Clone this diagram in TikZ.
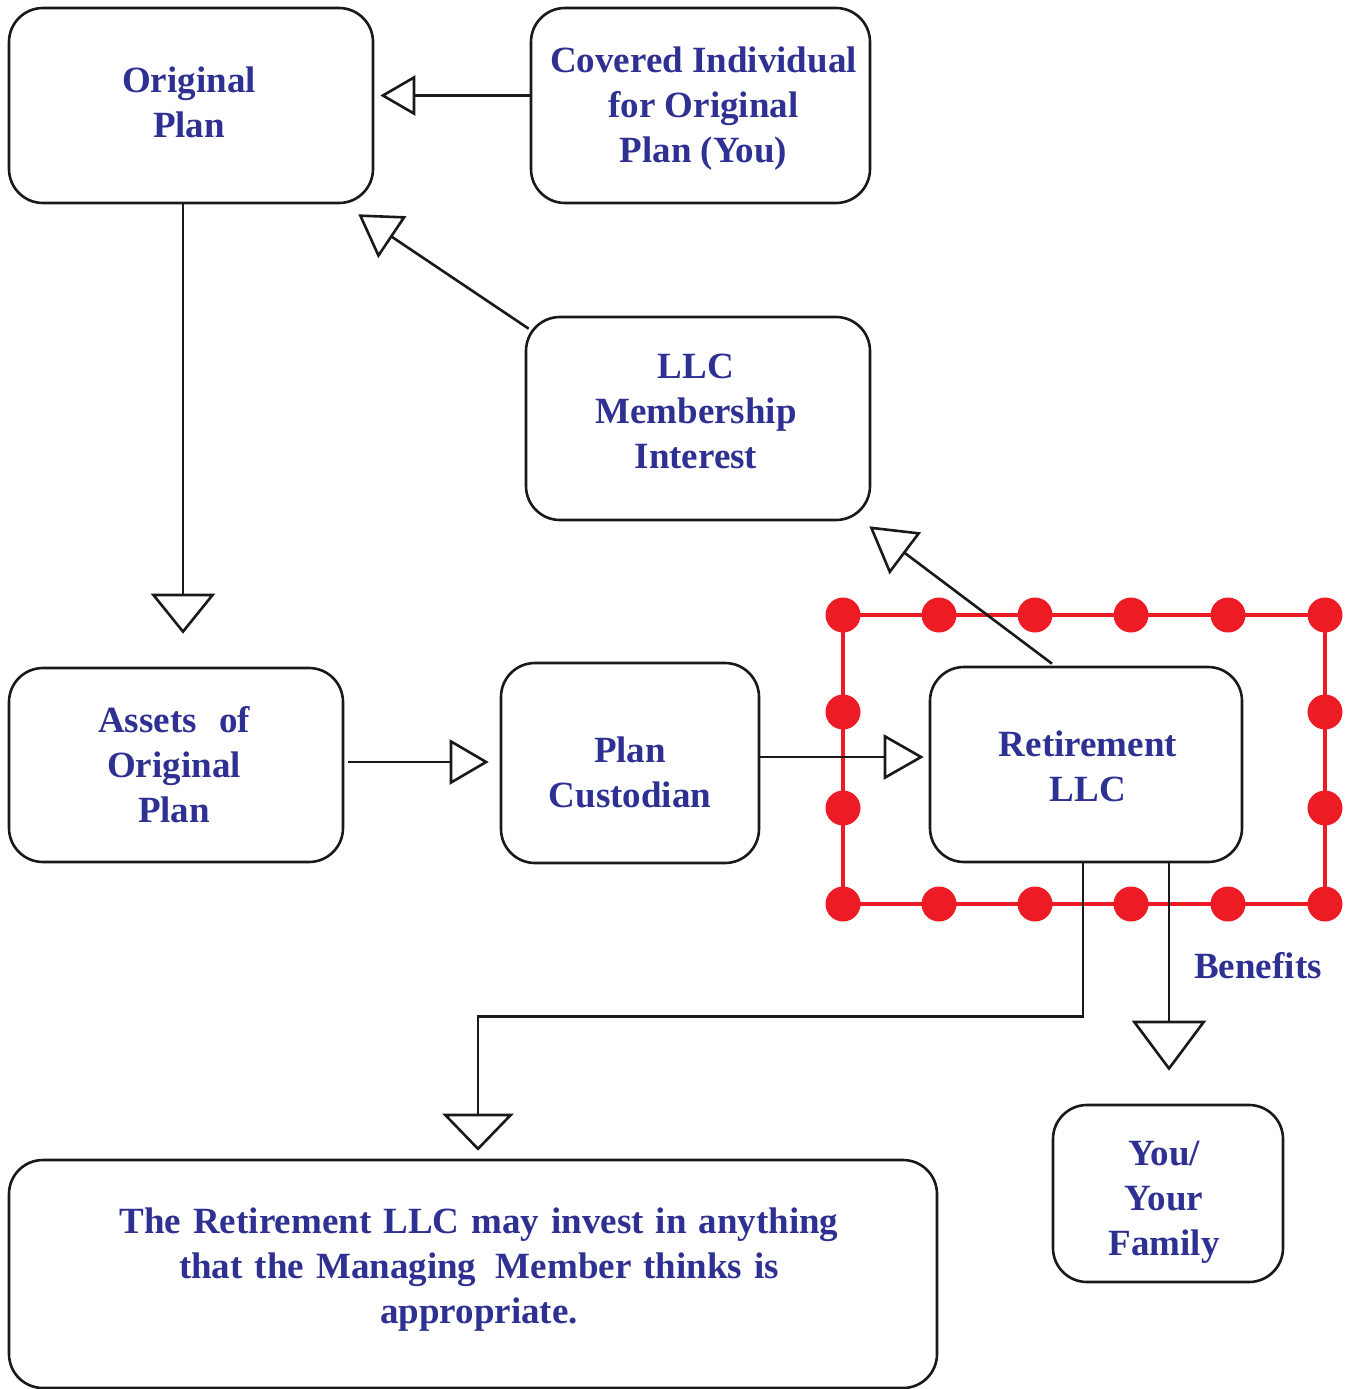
\documentclass[tikz,border=0pt]{standalone}
\usepackage{fontspec}
\setmainfont{Liberation Serif}
\usetikzlibrary{arrows.meta}
\definecolor{txtblue}{HTML}{2E3192}
\definecolor{dotred}{HTML}{ED1C24}
\newcommand\widespaces{\spaceskip=12pt plus 3pt\relax}
\begin{document}
\begin{tikzpicture}[x=1pt,y=-1pt,
  box/.style={draw=black!90, line width=2.6pt, rounded corners=34pt, rectangle, inner sep=0pt},
  lbl/.style={text=txtblue, align=center, inner sep=0pt,
    font=\fontsize{37}{45}\selectfont\bfseries},
  conn/.style={draw=black!90, line width=2.6pt},
  tri/.style 2 args={conn, -{Triangle[open, length=#1pt, width=#2pt, line width=2.6pt]}},
  dot/.style={fill=dotred, draw=none}
]
\useasboundingbox (0,0) rectangle (1351,1389);

% boxes
\node[box, minimum width=364pt, minimum height=195pt] (orig) at (191,105.5) {};
\node[box, minimum width=339pt, minimum height=195pt] (cov) at (700.5,105.5) {};
\node[box, minimum width=344pt, minimum height=203pt] (llcm) at (698,418.5) {};
\node[box, minimum width=334pt, minimum height=194pt] (assets) at (176,765) {};
\node[box, minimum width=258pt, minimum height=200pt] (cust) at (630,763) {};
\node[box, minimum width=312pt, minimum height=195pt] (rllc) at (1086,764.5) {};
\node[box, minimum width=230pt, minimum height=177pt] (you) at (1168,1193.5) {};
\node[box, minimum width=928pt, minimum height=228pt] (bot) at (473,1274) {};

% labels
\node[lbl] (origT) at ([xshift=-2pt,yshift=3pt]orig.center) {Original\\Plan};
\node[lbl] (covT) at ([xshift=3pt,yshift=-3pt]cov.center) {Covered Individual\\for Original\\Plan (You)};
\node[lbl] (llcmT) at ([xshift=-2pt,yshift=7pt]llcm.center) {LLC\\Membership\\Interest};
\node[lbl] (assetsT) at ([xshift=-2pt]assets.center) {Assets\hspace{0.6em}of\\Original\\Plan};
\node[lbl] (custT) at ([yshift=-9pt]cust.center) {Plan\\Custodian};
\node[lbl] (rllcT) at ([xshift=2pt,yshift=-2pt]rllc.center) {Retirement\\LLC};
\node[lbl] (youT) at ([xshift=-4pt,yshift=-9pt]you.center) {You/\\Your\\Family};
\node[lbl, font=\fontsize{37}{45}\selectfont\bfseries\widespaces] (botT) at ([xshift=6pt,yshift=4pt]bot.center) {The Retirement LLC may invest in anything\\that the Managing\hspace{0.2em} Member thinks is\\appropriate.};

% red dotted frame
\draw[dotred, line width=4.5pt] (843,615) rectangle (1325,904);
\foreach \x in {843,939,1035,1131,1228,1325} {
  \fill[dot] (\x,615) circle (17.5pt);
  \fill[dot] (\x,904) circle (17.5pt);
}
\foreach \y in {712,808} {
  \fill[dot] (843,\y) circle (17.5pt);
  \fill[dot] (1325,\y) circle (17.5pt);
}

% connectors
\draw[tri={35}{40}] ([yshift=10pt]cov.west) -- ([xshift=6pt,yshift=10pt]orig.east);
\draw[tri={41}{50}] ([xshift=4pt,yshift=-13pt]llcm.north west) -- ([xshift=-16pt,yshift=-10pt]orig.south east);
\draw[tri={40}{64}] ([xshift=-8pt]orig.south) -- ([xshift=7pt,yshift=33pt]assets.north);
\draw[tri={39}{45}] ([xshift=4pt,yshift=3pt]assets.east) -- ([xshift=-11pt,yshift=1pt]cust.west);
\draw[tri={40}{45}] ([yshift=6pt]cust.east) -- ([xshift=-5pt,yshift=7.5pt]rllc.west);
\draw[tri={45}{52}] ([xshift=-34pt,yshift=2pt]rllc.north) -- ([xshift=-2pt,yshift=-5pt]llcm.south east);
\draw[tri={50}{74}] ([xshift=83pt]rllc.south) -- ([xshift=1pt,yshift=33pt]you.north);
\draw[tri={37}{71}] ([xshift=-3pt]rllc.south) -- ++(0,153) -| ([xshift=5pt,yshift=8pt]bot.north);

\node[lbl] (ben) at (1258,966) {Benefits};
\end{tikzpicture}
\end{document}
